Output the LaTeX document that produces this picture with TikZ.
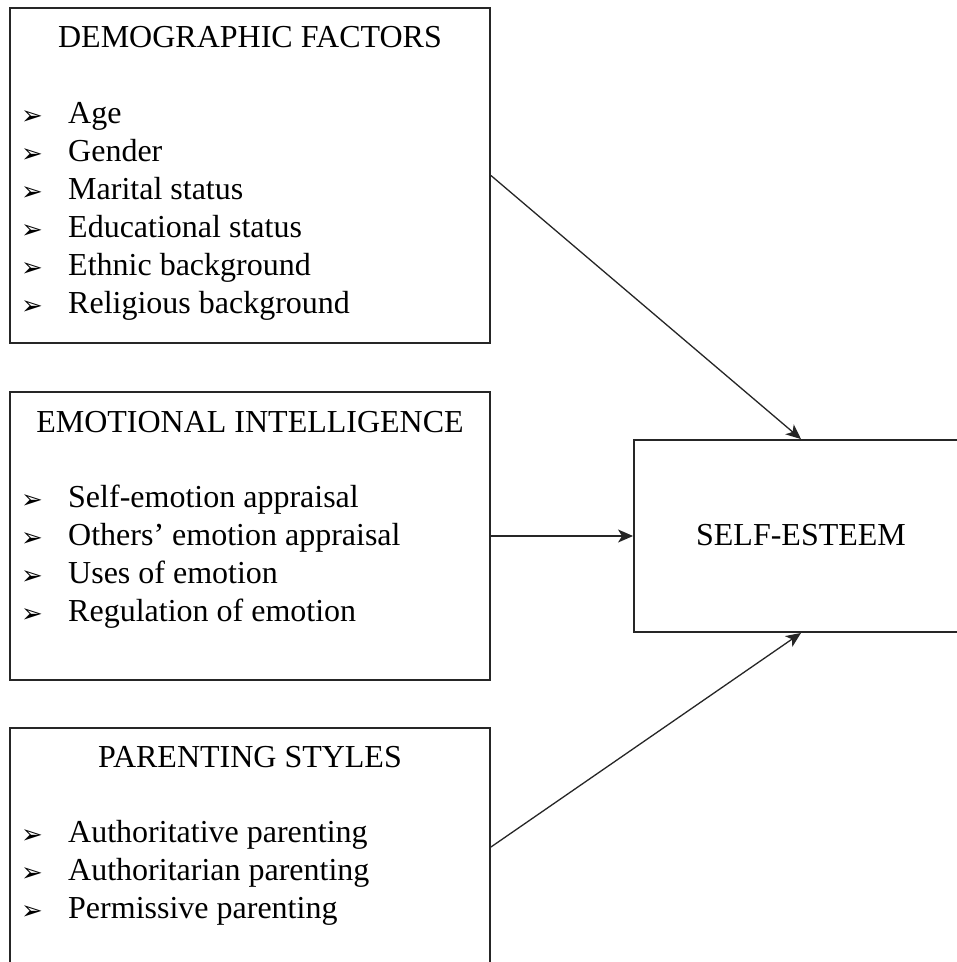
\documentclass[tikz,border=0pt]{standalone}
\usepackage{fontspec}
\setmainfont{Liberation Serif}
\newfontfamily\dejavu{DejaVu Sans}
\usetikzlibrary{arrows.meta}
\tikzset{
  box/.style={draw=black!85, line width=1.9pt, rectangle, inner sep=0pt},
  title/.style={anchor=base, inner sep=0pt, font=\fontsize{32}{38}\selectfont},
  item/.style={anchor=base west, inner sep=0pt, font=\fontsize{32}{38}\selectfont},
  bul/.style={anchor=base west, inner sep=0pt, font=\dejavu\fontsize{26}{30}\selectfont},
  arr/.style={draw=black!85, line width=1.3pt, -{Stealth[length=15pt,width=13pt,inset=4pt]}}
}
\begin{document}
\begin{tikzpicture}[x=1pt,y=-1pt]
\useasboundingbox (0,0) rectangle (957,962);
\clip (0,0) rectangle (957,962);
\fill[white] (0,0) rectangle (957,962);
% boxes
\node[box, minimum width=480pt, minimum height=335pt] (demo) at (250,175.5) {};
\node[box, minimum width=480pt, minimum height=288pt] (emo) at (250,536) {};
\node[box, minimum width=480pt, minimum height=238pt] (par) at (250,847) {};
\node[box, minimum width=334pt, minimum height=192pt] (self) at (801,536) {};
% titles
\node[title] (demot) at (250,47) {DEMOGRAPHIC FACTORS};
\node[title] (emot) at (250,432) {EMOTIONAL INTELLIGENCE};
\node[title] (part) at (250,767) {PARENTING STYLES};
\node[title] (selft) at (801,545) {SELF-ESTEEM};
% demographic items
\foreach \t [count=\i] in {Age, Gender, Marital status, Educational status, Ethnic background, Religious background}{
  \node[bul] (db\i) at (21,{124+38*(\i-1)}) {➢};
  \node[item] (di\i) at (68,{123+38*(\i-1)}) {\t};
}
% emotional items
\foreach \t [count=\i] in {Self-emotion appraisal, Others’ emotion appraisal, Uses of emotion, Regulation of emotion}{
  \node[bul] (eb\i) at (21,{508+38.3*(\i-1)}) {➢};
  \node[item] (ei\i) at (68,{507+38.3*(\i-1)}) {\t};
}
% parenting items
\foreach \t [count=\i] in {Authoritative parenting, Authoritarian parenting, Permissive parenting}{
  \node[bul] (pb\i) at (21,{843+38*(\i-1)}) {➢};
  \node[item] (pi\i) at (68,{842+38*(\i-1)}) {\t};
}
% connectors
\draw[arr] (demo.east) -- (self.north);
\draw[arr] (emo.east) -- (self.west);
\draw[arr] (par.east) -- (self.south);
\end{tikzpicture}
\end{document}
